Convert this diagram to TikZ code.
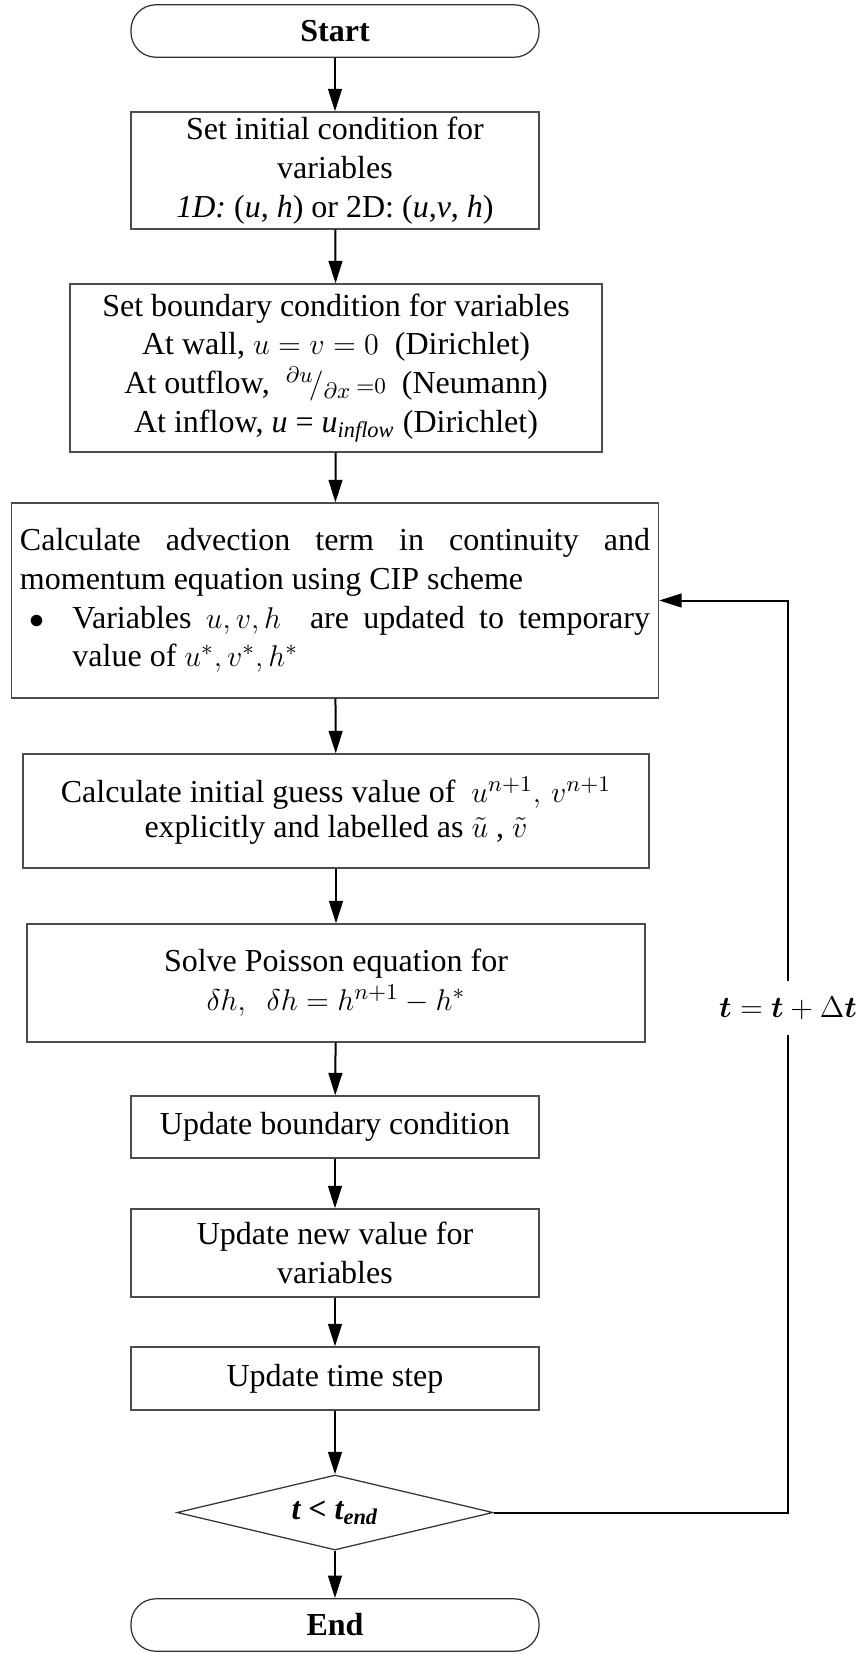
\documentclass[tikz,border=0pt]{standalone}
\usepackage{amsmath}
\usepackage{amsfonts}
\usepackage{fontspec}
\setmainfont{Liberation Serif}
\usepackage{tikz}
\usetikzlibrary{arrows.meta,shapes}

\tikzset{
        procbox/.style={draw=black!70, line width=0.5pt, rectangle, align=center,
                minimum width=163.2pt, inner sep=2pt},
        termbox/.style={draw=black!80, line width=0.5pt, rectangle, rounded corners=10pt,
                minimum width=163.2pt, minimum height=21pt, font=\fontsize{12.8}{15.5}\selectfont\bfseries},
        decbox/.style={draw=black!80, line width=0.5pt, diamond, aspect=4, inner sep=0pt,
                minimum width=126.4pt, minimum height=30pt},
        flowarr/.style={-{Triangle[length=9pt,width=5.5pt]}, line width=0.8pt},
}

\begin{document}
\begin{tikzpicture}[x=0.4pt, y=-0.4pt, font=\fontsize{12.8}{15.5}\selectfont]
        \useasboundingbox (0,0) rectangle (859,1654);

        \node[termbox] (start) at (335,31) {Start};
        \node[procbox, minimum height=46.8pt] (init) at (335,170.5)
                {Set initial condition for\\ variables\\
                \textit{1D:} (\textit{u}, \textit{h}) or 2D: (\textit{u},\textit{v}, \textit{h})};
        \node[procbox, minimum width=212.8pt, minimum height=67.2pt] (bound) at (336,368)
                {Set boundary condition for variables\\
                At wall, $u = v = 0$\ \ (Dirichlet)\\
                At outflow,\ \ $^{\partial u}\!/_{\partial x}\,{\scriptstyle = 0}$\ \ (Neumann)\\
                At inflow, \textit{u} = \textit{u}\textsubscript{\textit{inflow}} (Dirichlet)};
        \node[procbox, minimum width=258.8pt, minimum height=78pt, text width=252pt, align=justify] (advect) at (335,600.5)
                {Calculate advection term in continuity and\linebreak momentum equation using CIP scheme\par
                \noindent\makebox[21pt][l]{\hspace{4pt}$\bullet$}\parbox[t]{231pt}{Variables $u, v, h$\ \ are updated to temporary\linebreak value of $u^*, v^*, h^*$}};
        \node[procbox, minimum width=250.4pt, minimum height=45.6pt, font=\fontsize{12.8}{14}\selectfont] (guess) at (336,811)
                {Calculate initial guess value of\ \ $u^{n+1},\, v^{n+1}$\\
                explicitly and labelled as $\tilde{u}$ , $\tilde{v}$};
        \node[procbox, minimum width=247.2pt, minimum height=47.2pt] (poisson) at (336,983)
                {Solve Poisson equation for\\ $\delta h,\ \ \delta h = h^{n+1} - h^*$};
        \node[procbox, minimum height=24.8pt] (updbc) at (335,1127) {Update boundary condition};
        \node[procbox, minimum height=35.2pt] (updval) at (335,1253) {Update new value for\\ variables};
        \node[procbox, minimum height=25.2pt] (updtime) at (335,1378.5) {Update time step};
        \node[decbox] (check) at (335,1512.5) {\bfseries\itshape t < t\textsubscript{end}};
        \node[termbox] (end) at (335,1625) {End};

        \node[minimum height=21.2pt, inner sep=0pt] (tstep) at (788,1008) {$\boldsymbol{t} = \boldsymbol{t} + \Delta\boldsymbol{t}$};

        \draw[flowarr] (start) -- (init);
        \draw[flowarr] (init) -- (bound);
        \draw[flowarr] (bound) -- (advect);
        \draw[flowarr] (advect) -- (guess);
        \draw[flowarr] (guess) -- (poisson);
        \draw[flowarr] (poisson) -- (updbc);
        \draw[flowarr] (updbc) -- (updval);
        \draw[flowarr] (updval) -- (updtime);
        \draw[flowarr] (updtime) -- (check);
        \draw[flowarr] (check) -- (end);

        \draw[line width=0.8pt] (check.east) -| (tstep.south);
        \draw[flowarr] (tstep.north) |- (advect.east);
\end{tikzpicture}
\end{document}
